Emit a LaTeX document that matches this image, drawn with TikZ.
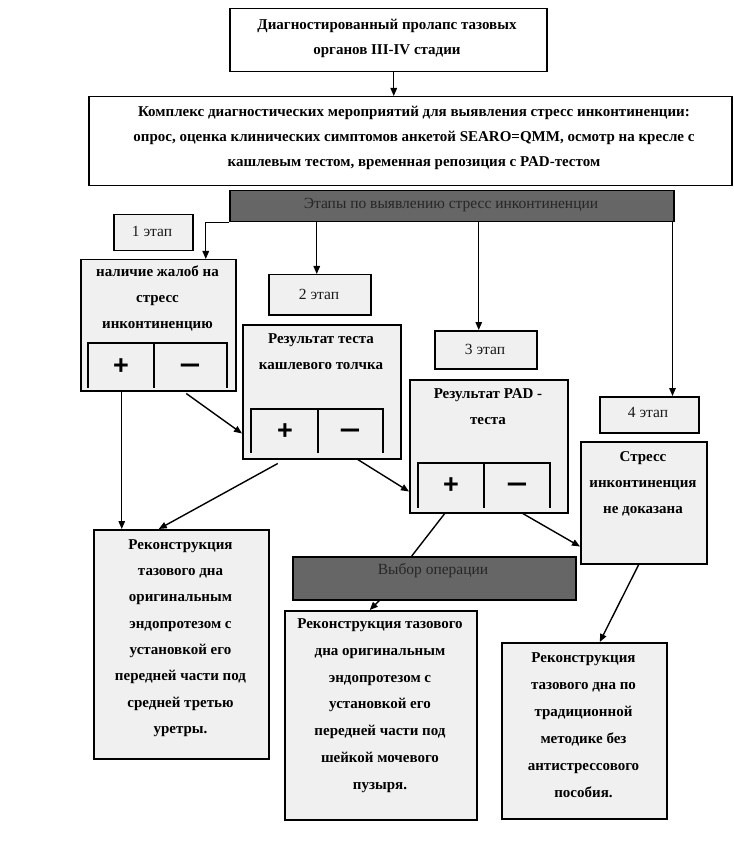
\documentclass[tikz,border=0pt]{standalone}
\usepackage{fontspec}
\setmainfont{Liberation Serif}
\newfontfamily\pmfont{Liberation Sans}
\usetikzlibrary{arrows.meta,calc}
\newcommand\mybox[6]{\node[#1, minimum width=#4pt, minimum height=#5pt] (#6) at (#2,#3) {};}
\begin{document}
\begin{tikzpicture}[x=1pt,y=-1pt,
  box/.style={draw, line width=1.5pt, anchor=north west, inner sep=0pt},
  wbox/.style={box, fill=white},
  gbox/.style={box, fill=gray!12},
  dbar/.style={box, fill=black!60},
  bt/.style={font=\fontsize{15}{26}\selectfont\bfseries, align=center, inner sep=0pt},
  nt/.style={font=\fontsize{15.5}{26}\selectfont, inner sep=0pt, text=black!90},
  arr/.style={line width=1.4pt, -{Triangle[length=8pt,width=6.5pt]}},
  ln/.style={line width=1.4pt},
  tab/.style={line width=1.3pt},
  pm/.style={font=\pmfont\bfseries\fontsize{27}{27}\selectfont, inner sep=0pt, anchor=base},
  mn/.style={pm, xscale=1.35, transform shape}]
\useasboundingbox[fill=white] (0,0) rectangle (733,858);

% boxes
\mybox{wbox}{229}{8}{317}{63}{top}
\mybox{wbox}{88}{96}{643}{89}{cplx}
\mybox{dbar}{229}{190}{444}{31}{bar1}
\mybox{gbox}{113}{214}{79}{36}{st1}
\mybox{gbox}{80}{259}{155}{131}{nal}
\mybox{gbox}{268}{274}{102}{40}{st2}
\mybox{gbox}{242}{324}{158}{134}{test}
\mybox{gbox}{434}{330}{102}{38}{st3}
\mybox{gbox}{409}{379}{158}{133}{pad}
\mybox{gbox}{599}{396}{99}{36}{st4}
\mybox{gbox}{580}{441}{126}{122}{nd}
\mybox{dbar}{292}{556}{283}{43}{bar2}
\mybox{gbox}{93}{529}{175}{229}{rec1}
\mybox{gbox}{284}{610}{192}{209}{rec2}
\mybox{gbox}{501}{642}{165}{176}{rec3}

% texts
\node[bt, font=\fontsize{15}{25}\selectfont\bfseries] (ttop) at (387,38.5) {Диагностированный пролапс тазовых\\органов III-IV стадии};
\node[bt, font=\fontsize{15}{25}\selectfont\bfseries] (tcplx) at (414,138) {Комплекс диагностических мероприятий для выявления стресс инконтиненции:\\опрос, оценка клинических симптомов анкетой SEARO=QMM, осмотр на кресле с\\кашлевым тестом, временная репозиция с PAD-тестом};
\node[nt, text=black!85] (tbar1) at (451,205) {Этапы по выявлению стресс инконтиненции};
\node[nt] (tst1) at (152,231) {1 этап};
\node[bt] (tnal) at (157.5,298) {наличие жалоб на\\стресс\\инконтиненцию};
\node[nt] (tst2) at (319,294) {2 этап};
\node[bt] (ttest) at (321,352) {Результат теста\\кашлевого толчка};
\node[nt] (tst3) at (485,349) {3 этап};
\node[bt] (tpad) at (488,407) {Результат PAD -\\теста};
\node[nt] (tst4) at (648,412) {4 этап};
\node[bt] (tnd) at (643,483.5) {Стресс\\инконтиненция\\не доказана};
\node[nt, text=black!85] (tbar2) at (433,571) {Выбор операции};
\node[bt, font=\fontsize{15}{26.3}\selectfont\bfseries] (trec1) at (180.5,638) {Реконструкция\\тазового дна\\оригинальным\\эндопротезом с\\установкой его\\передней части под\\средней третью\\уретры.};
\node[bt, font=\fontsize{15}{26.8}\selectfont\bfseries] (trec2) at (380,705.5) {Реконструкция тазового\\дна оригинальным\\эндопротезом с\\установкой его\\передней части под\\шейкой мочевого\\пузыря.};
\node[bt, font=\fontsize{15}{27}\selectfont\bfseries] (trec3) at (583.5,725.5) {Реконструкция\\тазового дна по\\традиционной\\методике без\\антистрессового\\пособия.};

% plus/minus tables
\draw[tab] (88,388) -- (88,343) -- (227,343) -- (227,388) (154,343) -- (154,388);
\node[pm] (p1) at (121,374) {+};
\node[mn] (m1) at (190,374) {−};
\draw[tab] (251,453) -- (251,409) -- (383,409) -- (383,453) (318,409) -- (318,453);
\node[pm] (p2) at (285,439) {+};
\node[mn] (m2) at (350,439) {−};
\draw[tab] (418,508) -- (418,463) -- (550,463) -- (550,508) (484,463) -- (484,508);
\node[pm] (p3) at (451,493) {+};
\node[mn] (m3) at (517,493) {−};

% connectors
\draw[arr] ([xshift=5.5pt]top.south) -- ([xshift=5.5pt]top.south |- cplx.north);
\draw[arr] (bar1.south west) -| ([xshift=47.5pt]nal.north);
\draw[arr] ([xshift=-3pt]st2.north |- bar1.south) -- ([xshift=-3pt]st2.north);
\draw[arr] ([xshift=-7pt]st3.north |- bar1.south) -- ([xshift=-7pt]st3.north);
\draw[arr] ([xshift=-2pt]bar1.south east) -- ([xshift=-2pt]bar1.south east |- st4.north);
\draw[arr] ([xshift=28pt,yshift=-2pt]nal.south) -- ([yshift=26pt]test.south west);
\draw[arr] ([xshift=-36.5pt]nal.south) -- ([xshift=-36.5pt]nal.south |- rec1.north);
\draw[arr] ([xshift=-44pt,yshift=-4pt]test.south) -- ([xshift=-22.5pt]rec1.north);
\draw[arr] ([xshift=36pt]test.south) -- ([yshift=22pt]pad.south west);
\draw[ln] ([xshift=-44pt]pad.south) -- ([xshift=-22.5pt]bar2.north);
\draw[arr] ([xshift=34pt]pad.south) -- ([yshift=18pt]nd.south west);
\draw[arr] ([xshift=-55pt]bar2.south) -- ([xshift=-11pt]rec2.north);
\draw[arr] ([xshift=-5pt]nd.south) -- ([xshift=15.5pt]rec3.north);
\end{tikzpicture}
\end{document}
